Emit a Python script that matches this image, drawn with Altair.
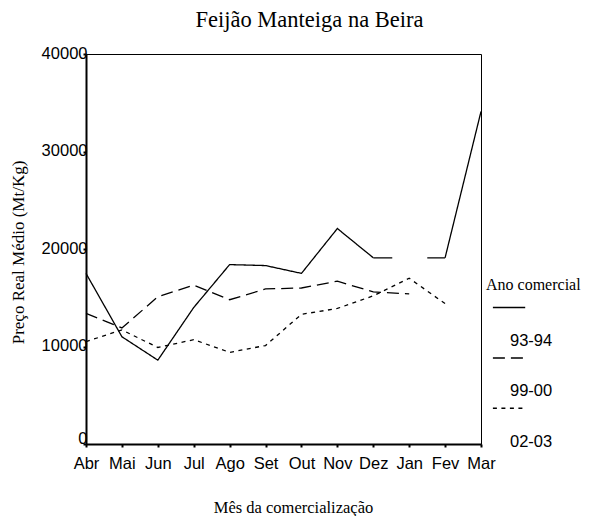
import altair as alt
import pandas as pd

months = ["Abr", "Mai", "Jun", "Jul", "Ago", "Set", "Out", "Nov", "Dez", "Jan", "Fev", "Mar"]
series_names = ["93-94", "99-00", "02-03"]
s9394 = [17500, 11000, 8600, 14000, 18400, 18300, 17500, 22100, 19100, None, 19100, 34100]
s9900 = [13400, 11900, 15100, 16300, 14800, 15900, 16000, 16700, 15600, 15400, None, None]
s0203 = [10500, 11700, 9900, 10700, 9400, 10100, 13300, 13900, 15200, 17000, 14400, None]
y_ticks = [0, 10000, 20000, 30000, 40000]

rows = []
for name, vals in zip(series_names, [s9394, s9900, s0203]):
    seg = 0
    for i, (m, v) in enumerate(zip(months, vals)):
        if v is None:
            seg += 1
            continue
        rows.append({"mes": m, "ord": i, "serie": name, "seg": f"{name}-{seg}", "preco": v})
df = pd.DataFrame(rows)

# bridge across the missing month for 93-94 (drawn as two half stubs)
gap_rows = []
idx = s9394.index(None)
for j in (idx - 1, idx + 1):
    gap_rows.append({"mes": months[j], "ord": j, "serie": "93-94", "preco": s9394[j]})
gap_df = pd.DataFrame(gap_rows)

SANS = "Liberation Sans"
SERIF = "Liberation Serif"

x_enc = alt.X(
    "mes:N",
    sort=months,
    scale=alt.Scale(type="point", domain=months, padding=0),
    axis=alt.Axis(
        title="Mês da comercialização",
        titleFont=SERIF, titleFontSize=16.5, titleFontWeight="normal", titleColor="black",
        titleX=207, titleY=68, titleBaseline="alphabetic", titleAlign="center",
        labelFont=SANS, labelFontSize=16.5, labelColor="black", labelAngle=0,
        labelPadding=8, tickSize=3, tickWidth=2, tickColor="black",
        domainColor="black", domainWidth=2, grid=False,
    ),
)
y_enc = alt.Y(
    "preco:Q",
    scale=alt.Scale(domain=[0, 40000], nice=False, zero=True),
    axis=alt.Axis(
        title="Preço Real Médio (Mt/Kg)",
        values=y_ticks, format="d",
        titleFont=SERIF, titleFontSize=17, titleFontWeight="normal", titleColor="black",
        titleX=-63, titleY=198, titleAngle=270, titleBaseline="alphabetic", titleAlign="center",
        labelFont=SANS, labelFontSize=16.5, labelColor="black",
        labelPadding=-4, tickSize=3, tickWidth=2, tickColor="black",
        labelOffset={"condition": {"test": "datum.value === 0", "value": -6}, "value": -1},
        domainColor="black", domainWidth=2, grid=False,
    ),
)

# legend sample line drawn above its label (label sits under the dash sample)
legend_symbol = "M-0.472,-3.074L2.519,-3.074"

lines = alt.Chart(df).mark_line(color="black", strokeWidth=1.3).encode(
    x=x_enc,
    y=y_enc,
    detail="seg:N",
    order="ord:Q",
    strokeDash=alt.StrokeDash(
        "serie:N",
        scale=alt.Scale(domain=series_names, range=[[1, 0], [12, 6], [4, 4.5]]),
        legend=alt.Legend(
            title="Ano comercial",
            orient="none", legendX=400, legendY=222.7,
            titleFont=SERIF, titleFontSize=16, titleFontWeight="normal", titleColor="black",
            titlePadding=36,
            labelFont=SANS, labelFontSize=16.5, labelColor="black",
            symbolType=legend_symbol, symbolSize=466.6, symbolStrokeWidth=1.5,
            symbolStrokeColor="black", symbolFillColor="transparent",
            symbolOffset=0, labelOffset=0,
            rowPadding=4.4,
        ),
    ),
)

bridge = alt.Chart(gap_df).mark_line(color="black", strokeWidth=1.3, strokeDash=[19, 35]).encode(
    x=alt.X("mes:N", sort=months),
    y=alt.Y("preco:Q"),
    order="ord:Q",
)

chart = alt.layer(lines, bridge).properties(
    width=395,
    height=390,
    background="white",
    title=alt.TitleParams(
        "Feijão Manteiga na Beira", font=SERIF, fontSize=22.5, fontWeight="normal",
        color="black", anchor="middle", dx=26, offset=14,
    ),
    autosize=alt.AutoSizeParams(type="none"),
    padding={"left": 78, "top": 46, "right": 100, "bottom": 72},
).configure_view(stroke="black", strokeWidth=1)

chart.save("out.html", embed_options={"renderer": "svg", "actions": False})
